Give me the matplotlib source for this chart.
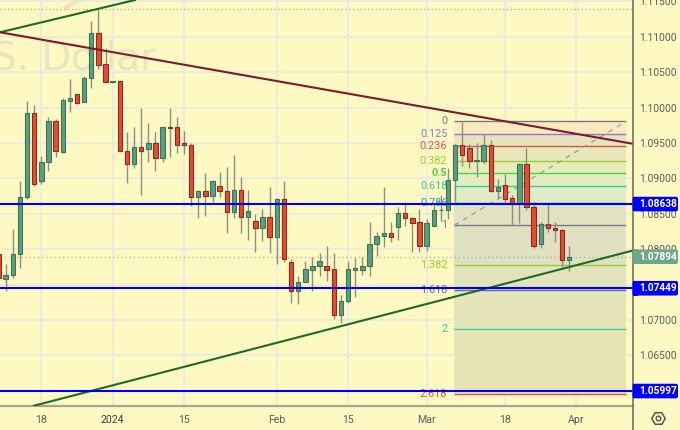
import matplotlib
matplotlib.use("Agg")
import matplotlib.pyplot as plt
from matplotlib.lines import Line2D
from matplotlib.patches import FancyBboxPatch, Rectangle
from matplotlib.transforms import IdentityTransform

opens = [1.07933,1.07575,1.07636,1.07928,1.08733,1.09920,1.08959,1.09232,1.09807,1.09377,
         1.10098,1.10188,1.10075,1.10414,1.11050,1.10612,1.10366,1.10372,1.09383,1.09204,
         1.09440,1.09420,1.09500,1.09293,1.09722,1.09722,1.09500,1.09476,1.08742,1.08822,
         1.08756,1.08889,1.08822,1.08530,1.08841,1.08451,1.08403,1.08296,1.08455,1.08168,
         1.08709,1.07815,1.07414,1.07533,1.07711,1.07763,1.07763,1.07716,1.07075,1.07264,
         1.07711,1.07711,1.07763,1.08070,1.08183,1.08225,1.08310,1.08507,1.08437,1.08380,
         1.08041,1.08332,1.08550,1.08550,1.08978,1.09476,1.09425,1.09250,1.09250,1.09476,
         1.08822,1.08903,1.08719,1.08643,1.09208,1.08592,1.08070,1.08360,1.08300,1.08271,
         1.07852]
closes = [1.07594,1.07636,1.07928,1.08733,1.09920,1.08925,1.09232,1.09807,1.09383,1.10103,
          1.10140,1.10069,1.10418,1.11050,1.10606,1.10366,1.10372,1.09383,1.09204,1.09440,
          1.09392,1.09500,1.09293,1.09722,1.09712,1.09468,1.09468,1.08742,1.08822,1.08756,
          1.08968,1.08818,1.08530,1.08841,1.08451,1.08536,1.08296,1.08455,1.08168,1.08709,
          1.07858,1.07414,1.07533,1.07716,1.07767,1.07829,1.07711,1.07075,1.07264,1.07716,
          1.07739,1.07763,1.08070,1.08183,1.08225,1.08168,1.08507,1.08437,1.08375,1.08041,
          1.08366,1.08554,1.08558,1.08978,1.09476,1.09331,1.09250,1.09260,1.09476,1.08822,
          1.08875,1.08714,1.08643,1.09208,1.08592,1.08050,1.08360,1.08300,1.08276,1.07852,
          1.07894]
highs = [1.08045,1.07791,1.08286,1.08964,1.10093,1.10037,1.09317,1.09872,1.09839,1.10136,
         1.10400,1.10188,1.10447,1.11223,1.11393,1.10838,1.10376,1.10372,1.09656,1.09722,
         1.09990,1.09783,1.09656,1.09731,1.09990,1.09863,1.09670,1.09496,1.08836,1.09072,
         1.08978,1.09095,1.09166,1.09331,1.09016,1.08836,1.08497,1.08572,1.08879,1.08723,
         1.08968,1.07858,1.07622,1.07834,1.07886,1.07942,1.08045,1.07942,1.07349,1.07838,
         1.07872,1.07894,1.08380,1.08239,1.08879,1.08389,1.08592,1.08667,1.08459,1.08564,
         1.08431,1.08649,1.08766,1.09147,1.09490,1.09801,1.09486,1.09496,1.09627,1.09543,
         1.08996,1.09062,1.08766,1.09222,1.09425,1.08671,1.08380,1.08634,1.08389,1.08281,
         1.08050]
lows = [1.07509,1.07414,1.07594,1.07739,1.08709,1.08893,1.08921,1.09109,1.09307,1.09359,
        1.09942,1.10051,1.10075,1.10281,1.10545,1.10343,1.10362,1.09383,1.08935,1.09143,
        1.08766,1.09228,1.09101,1.09228,1.09307,1.09363,1.09345,1.08615,1.08445,1.08465,
        1.08671,1.08742,1.08225,1.08445,1.08225,1.08130,1.07965,1.08120,1.07951,1.07795,
        1.07815,1.07236,1.07222,1.07533,1.07414,1.07622,1.07555,1.07010,1.06962,1.07245,
        1.07329,1.07636,1.07622,1.07904,1.08027,1.08102,1.08130,1.08332,1.07965,1.07965,
        1.07979,1.08332,1.08399,1.08431,1.08671,1.09180,1.09147,1.09024,1.09204,1.08812,
        1.08705,1.08649,1.08342,1.08366,1.08550,1.08013,1.08022,1.08239,1.08106,1.07745,
        1.07688]

x_ticks = [6, 16, 26, 39, 49, 60, 71, 81]
x_labels = ["18", "2024", "15", "Feb", "15", "Mar", "18", "Apr"]
y_ticks = [1.065, 1.070, 1.075, 1.080, 1.085, 1.090, 1.095, 1.100, 1.105, 1.110, 1.115]
y_labels = ["1.06500", "1.07000", "1.07500", "1.08000", "1.08500", "1.09000",
            "1.09500", "1.10000", "1.10500", "1.11000", "1.11500"]

blue_levels = [1.08638, 1.07449, 1.05997]
last_price = 1.07894
session_high = 1.11393

fib_names = ["0", "0.125", "0.236", "0.382", "0.5", "0.618", "0.786", "1", "1.382", "1.618", "2", "2.618"]
fib_prices = [1.09807, 1.09623, 1.09460, 1.09246, 1.09073, 1.08899, 1.08652, 1.08338,
              1.07777, 1.07430, 1.06869, 1.05961]
fib_line_colors = ["#787B86", "#9575CD", "#D9534F", "#9ACD32", "#4CD44C", "#3CC8A0", "#2196F3",
                   "#787B86", "#9ACD32", "#5C6BC0", "#3CC8A0", "#D9534F"]
fib_band_colors = ["#FBE9C0", "#EAE2BC", "#E6E8BC", "#E6EDBA", "#E2EEBE", "#E0EAC4", "#E0E2C2",
                   "#E0E0C2", "#E2E4BC", "#E6E5BA", "#E7E5B6"]
fib_start, fib_end = 63.9, 88.0

upper_green_x, upper_green_y = [0.21, 19.13], [1.11064, 1.11520]
lower_green_x, lower_green_y = [4.98, 88.86], [1.05790, 1.07980]
maroon_x, maroon_y = [0.21, 88.86], [1.11064, 1.09490]
watermark_stroke_x, watermark_stroke_y = [9.4, 11.2], [1.11410, 1.11520]

BG = "#FEF9C3"
GRID = "#E9E8E2"
TXT = "#5C5C5C"
GREEN = "#5E9E7C"
GREEN_E = "#3A7558"
RED = "#E04E3A"
RED_E = "#8C2A1E"
FONT = "Roboto"

fig = plt.figure(figsize=(6.8, 4.3), dpi=100, facecolor=BG)
ax = fig.add_axes([0, 24.3 / 430, 632.5 / 680, 405.7 / 430], facecolor=BG)
ax.set_xlim(0.21, 88.86)
ax.set_ylim(1.05790, 1.11520)

ax.set_xticks(x_ticks, x_labels, fontfamily=FONT, fontsize=7.6, color=TXT)
ax.yaxis.tick_right()
ax.set_yticks(y_ticks, y_labels, fontfamily=FONT, fontsize=7.4, color=TXT)
ax.tick_params(length=0)
ax.tick_params(axis="x", pad=6.5)
ax.tick_params(axis="y", pad=4.8)
ax.get_xticklabels()[1].set_color("#3C3C3C")
ax.grid(True, color=GRID, lw=1.1, zorder=0)
ax.set_axisbelow(True)
for s in ("left", "top"):
    ax.spines[s].set_visible(False)
ax.spines["bottom"].set_color("#A5A391")
ax.spines["bottom"].set_linewidth(1.6)
ax.spines["right"].set_visible(False)
fig.add_artist(Line2D([632.5 / 680] * 2, [0, 1], color="#666660", lw=1.1))

ax.text(22.1, 1.10545, "U.S. Dollar", ha="right", va="baseline", fontsize=28, color="#EAE5BF",
        fontfamily="DejaVu Sans", zorder=1)
ax.plot(watermark_stroke_x, watermark_stroke_y, color="#EAE5BF", lw=3, zorder=1)

# fibonacci bands and levels
for i, c in enumerate(fib_band_colors):
    ax.fill_between([fib_start, fib_end], fib_prices[i], fib_prices[i + 1], color=c, lw=0, zorder=1.5)
for n, p, c in zip(fib_names, fib_prices, fib_line_colors):
    ax.hlines(p, fib_start, fib_end, color=c, lw=1.0, zorder=2)
    ax.text(62.9, p, n, ha="right", va="center", color=c, fontsize=7.8, fontfamily=FONT,
            fontweight="bold" if n == "0.5" else "normal", zorder=2)
ax.plot([fib_start, fib_end], [fib_prices[7], fib_prices[0]], color="#9A9A90", lw=0.9, ls=(0, (4, 4)), zorder=2)

# dotted reference lines
ax.axhline(session_high, color="#A9A9A0", lw=0.9, ls=(0, (1, 2)), zorder=2)
ax.axhline(last_price, color="#A4C49A", lw=1, ls=(0, (1, 2)), zorder=2)

# candles
idx = list(range(len(opens)))
colors = [GREEN if c >= o else RED for o, c in zip(opens, closes)]
edges = [GREEN_E if c >= o else RED_E for o, c in zip(opens, closes)]
bottoms = [min(o, c) for o, c in zip(opens, closes)]
heights = [max(abs(c - o), 0.00006) for o, c in zip(opens, closes)]
ax.vlines(idx, lows, highs, color="#8E8E82", lw=1.0, zorder=3)
ax.bar(idx, heights, bottom=bottoms, width=0.62, color=colors, edgecolor=edges, linewidth=0.8, zorder=4)

# trend lines and levels
ax.plot(upper_green_x, upper_green_y, color="#1F6B24", lw=1.5, zorder=5)
ax.plot(lower_green_x, lower_green_y, color="#1F6B24", lw=1.5, zorder=5)
ax.plot(maroon_x, maroon_y, color="#7A1C2B", lw=1.5, zorder=5)
for p in blue_levels:
    ax.axhline(p, color="#0000F0", lw=1.5, zorder=6)

# price tags
fig.canvas.draw()
for p, c in [(blue_levels[0], "#0000FF"), (blue_levels[1], "#0000FF"), (blue_levels[2], "#0000FF"), (last_price, "#6FA58A")]:
    ypx = ax.transData.transform((0, p))[1]
    fig.add_artist(FancyBboxPatch((632.5, ypx - 7.3), 45.5, 14.6, boxstyle="round,pad=0,rounding_size=2",
                                  fc=c, ec="none", transform=IdentityTransform(), zorder=8))
    fig.add_artist(Rectangle((632.5, ypx - 7.3), 5, 14.6, fc=c, ec="none", transform=IdentityTransform(), zorder=8))
    fig.text(639.5 / 680, ypx / 430, f"{p:.5f}", ha="left", va="center", color="white",
             fontsize=7.3, fontweight="bold", fontfamily=FONT, zorder=9)

# settings icon
fig.add_artist(Line2D([658 / 680], [12 / 430], marker="H", ms=9.6, mfc="none", mec="#555550", mew=1.1, lw=0))
fig.add_artist(Line2D([658 / 680], [12 / 430], marker="o", ms=3.4, mfc="none", mec="#555550", mew=1.0, lw=0))

fig.savefig("out.png", dpi=100, facecolor=BG)
